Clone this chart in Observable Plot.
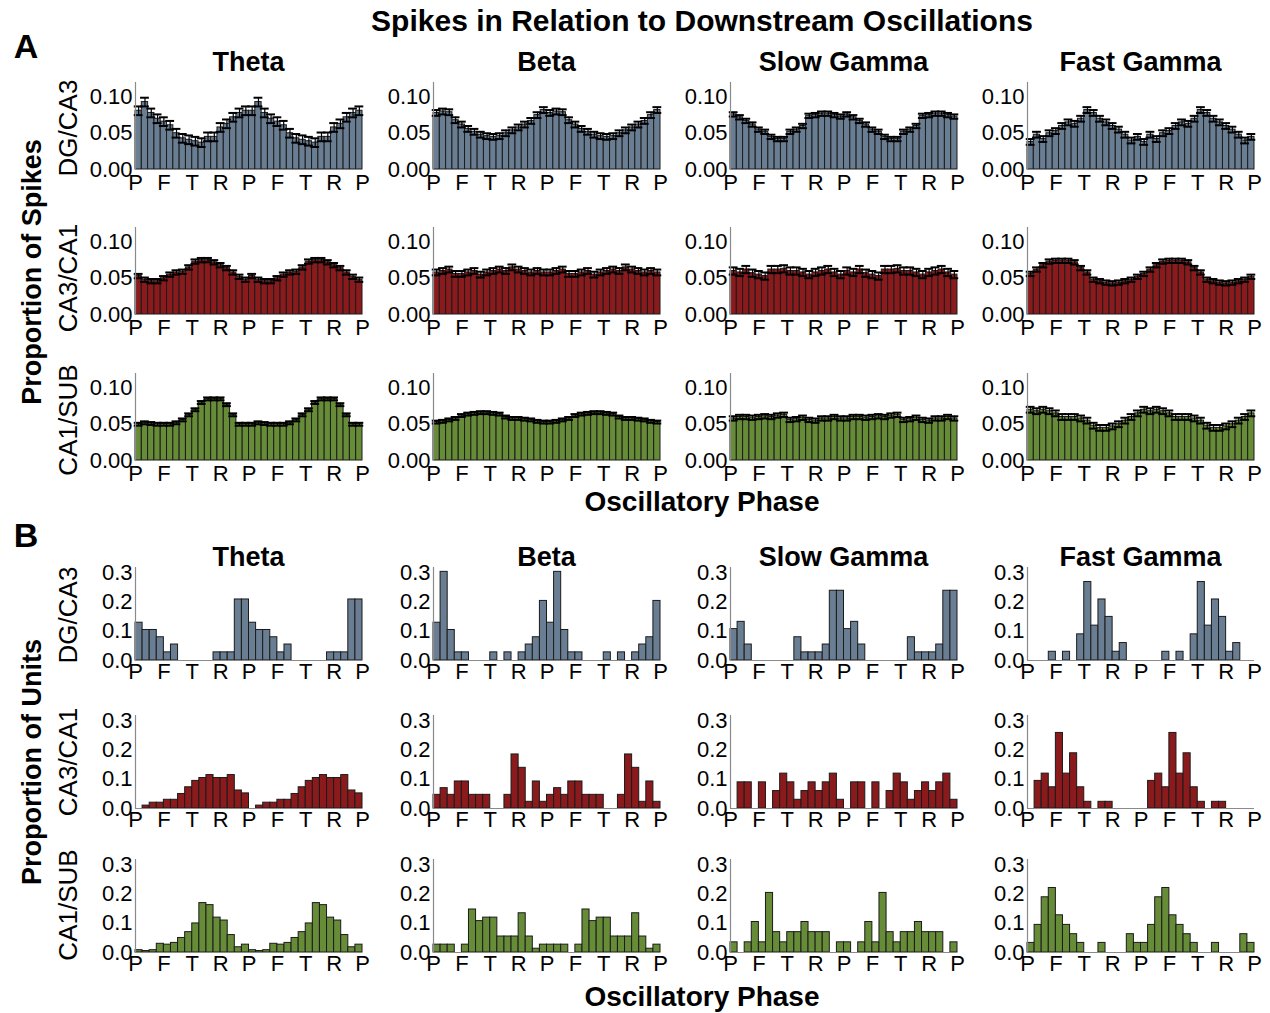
<!DOCTYPE html>
<html>
<head>
<meta charset="utf-8">
<script src="https://cdn.jsdelivr.net/npm/d3@7"></script>
<script src="https://cdn.jsdelivr.net/npm/@observablehq/plot@0.6"></script>
<style>
  html, body { margin: 0; padding: 0; background: #fff; }
  #root { position: relative; width: 1270px; height: 1013px; font-family: "Liberation Sans", Arial, sans-serif; color: #000; overflow: hidden; }
  .t { position: absolute; white-space: nowrap; transform: translate(-50%, -50%); line-height: 1; }
  .rot { transform: translate(-50%, -50%) rotate(-90deg); }
  .b { font-weight: bold; }
  .panel { position: absolute; }
</style>
</head>
<body>
<div id="root"></div>
<script>
// ---------- labels ----------
const TITLE = "Spikes in Relation to Downstream Oscillations";
const BANDS = ["Theta", "Beta", "Slow Gamma", "Fast Gamma"];
const REGIONS = ["DG/CA3", "CA3/CA1", "CA1/SUB"];
const PHASE_TICKS = ["P", "F", "T", "R", "P", "F", "T", "R", "P"];
const COLORS = ["#6a7e93", "#8b1a1d", "#678c38"];

// ---------- A: proportion of spikes (one 360° cycle, 18 bins; drawn twice, 0–720°) ----------
const A_DG_theta = [0.081,0.093,0.078,0.070,0.066,0.061,0.050,0.043,0.041,0.039,0.037,0.045,0.045,0.058,0.063,0.072,0.078,0.081];
const A_DG_beta  = [0.078,0.080,0.079,0.068,0.062,0.056,0.052,0.048,0.046,0.045,0.046,0.050,0.054,0.058,0.062,0.067,0.075,0.082];
const A_DG_sg    = [0.076,0.072,0.067,0.062,0.055,0.052,0.045,0.042,0.042,0.052,0.055,0.060,0.074,0.075,0.077,0.077,0.075,0.073];
const A_DG_fg    = [0.038,0.048,0.042,0.050,0.053,0.060,0.065,0.063,0.070,0.082,0.078,0.070,0.065,0.060,0.055,0.048,0.040,0.045];
const A_CA3_theta = [0.053,0.048,0.046,0.046,0.050,0.055,0.058,0.059,0.065,0.073,0.075,0.075,0.072,0.068,0.064,0.058,0.052,0.048];
const A_CA3_beta  = [0.058,0.060,0.062,0.056,0.056,0.058,0.060,0.055,0.058,0.060,0.062,0.060,0.065,0.062,0.060,0.058,0.060,0.058];
const A_CA3_sg    = [0.060,0.058,0.062,0.057,0.055,0.053,0.062,0.062,0.063,0.060,0.060,0.058,0.055,0.058,0.060,0.062,0.058,0.055];
const A_CA3_fg    = [0.056,0.062,0.068,0.073,0.074,0.074,0.074,0.072,0.064,0.058,0.048,0.046,0.044,0.043,0.044,0.046,0.048,0.052];
const A_CA1_theta = [0.050,0.052,0.051,0.050,0.050,0.050,0.052,0.056,0.063,0.070,0.080,0.085,0.085,0.085,0.077,0.063,0.050,0.050];
const A_CA1_beta  = [0.053,0.054,0.056,0.058,0.062,0.064,0.065,0.066,0.066,0.065,0.064,0.060,0.058,0.058,0.057,0.056,0.054,0.053];
const A_CA1_sg    = [0.058,0.060,0.060,0.059,0.060,0.061,0.060,0.062,0.063,0.056,0.057,0.059,0.056,0.055,0.058,0.058,0.060,0.058];
const A_CA1_fg    = [0.070,0.068,0.070,0.068,0.065,0.060,0.060,0.060,0.058,0.055,0.048,0.045,0.045,0.047,0.050,0.055,0.060,0.065];
// SEM (error-bar half height) per panel, rows = regions, cols = bands
const A_SEM_DG  = [0.006, 0.004, 0.003, 0.004];
const A_SEM_CA3 = [0.003, 0.004, 0.005, 0.003];
const A_SEM_CA1 = [0.002, 0.002, 0.003, 0.004];

// ---------- B: proportion of units (one cycle, 16 bins; drawn twice) ----------
const B_DG_theta = [0.13,0.105,0.105,0.08,0.028,0.055,0,0,0,0,0,0.028,0.028,0.028,0.21,0.21];
const B_DG_beta  = [0.13,0.305,0.105,0.028,0.028,0,0,0,0.028,0,0.028,0,0.028,0.055,0.08,0.205];
const B_DG_sg    = [0.108,0.133,0.055,0,0,0,0,0,0,0.08,0.028,0.028,0.028,0.055,0.24,0.24];
const B_DG_fg    = [0,0,0,0.03,0,0.03,0,0.09,0.27,0.12,0.21,0.15,0.03,0.06,0,0];
const B_CA3_theta = [0,0.01,0.02,0.02,0.03,0.03,0.05,0.073,0.095,0.105,0.115,0.105,0.105,0.115,0.062,0.052];
const B_CA3_beta  = [0.047,0.07,0.047,0.093,0.093,0.047,0.047,0.047,0,0,0.047,0.186,0.14,0.023,0.093,0.023];
const B_CA3_sg    = [0,0.09,0.09,0,0.09,0,0.06,0.12,0.09,0.03,0.06,0.09,0.06,0.09,0.12,0.03];
const B_CA3_fg    = [0,0.095,0.12,0.073,0.26,0.12,0.19,0.073,0.023,0,0.023,0.023,0,0,0,0];
const B_CA1_theta = [0.008,0.005,0.008,0.03,0.027,0.033,0.05,0.07,0.10,0.17,0.163,0.12,0.11,0.06,0.018,0.027];
const B_CA1_beta  = [0.027,0.027,0.027,0,0.027,0.148,0.108,0.12,0.12,0.055,0.055,0.055,0.135,0.055,0.013,0.027];
const B_CA1_sg    = [0.035,0,0.035,0.105,0.035,0.205,0.07,0.035,0.07,0.07,0.105,0.07,0.07,0.07,0,0.035];
const B_CA1_fg    = [0.033,0.095,0.19,0.222,0.128,0.095,0.063,0.033,0,0,0.033,0,0,0,0.063,0.033];

const A_Y_TICKS = [0, 0.05, 0.10];
const B_Y_TICKS = [0, 0.1, 0.2, 0.3];

// ---------- assemble ----------
const A_GRID = [
  [A_DG_theta, A_DG_beta, A_DG_sg, A_DG_fg],
  [A_CA3_theta, A_CA3_beta, A_CA3_sg, A_CA3_fg],
  [A_CA1_theta, A_CA1_beta, A_CA1_sg, A_CA1_fg]
];
const A_SEM = [A_SEM_DG, A_SEM_CA3, A_SEM_CA1];
const B_GRID = [
  [B_DG_theta, B_DG_beta, B_DG_sg, B_DG_fg],
  [B_CA3_theta, B_CA3_beta, B_CA3_sg, B_CA3_fg],
  [B_CA1_theta, B_CA1_beta, B_CA1_sg, B_CA1_fg]
];

const root = document.getElementById("root");
function text(str, x, y, size, cls) {
  const d = document.createElement("div");
  d.className = "t " + (cls || "");
  d.style.left = x + "px"; d.style.top = y + "px"; d.style.fontSize = size + "px";
  d.textContent = str;
  root.appendChild(d);
}

const COL_X = [135, 433, 730, 1027];
const PLOT_W = 227;
const ML = 60, MR = 10, MT = 6, MB = 30;

function panel(cycle, sem, color, yMax, yTicks, yFmt, plotH, left, base, xPad) {
  const vals = cycle.concat(cycle); // two cycles, 0–720°
  const n = vals.length;
  const data = vals.map((v, i) => ({i, v}));
  const marks = [
    Plot.rect(data, {x1: d => d.i, x2: d => d.i + 1, y1: 0, y2: "v", fill: color, stroke: "#1b1b1b", strokeWidth: 1})
  ];
  if (sem != null) {
    marks.push(
      Plot.ruleX(data, {x: d => d.i + 0.5, y1: d => d.v - sem, y2: d => d.v + sem, stroke: "#000", strokeWidth: 1.2}),
      Plot.ruleY(data, {y: d => d.v + sem, x1: d => d.i - 0.2, x2: d => d.i + 1.2, stroke: "#000", strokeWidth: 2}),
      Plot.ruleY(data, {y: d => d.v - sem, x1: d => d.i - 0.2, x2: d => d.i + 1.2, stroke: "#000", strokeWidth: 2})
    );
  }
  marks.push(
    Plot.ruleY([0], {stroke: "#8a8a8a", strokeWidth: 1.2}),
    Plot.ruleX([0], {stroke: "#8a8a8a", strokeWidth: 1.2}),
    Plot.axisY({ticks: yTicks, tickFormat: d3.format(yFmt), tickSize: 0, tickPadding: 3, label: null, fontSize: 22}),
    Plot.axisX({ticks: d3.range(9).map(k => k * n / 8), tickFormat: d => PHASE_TICKS[Math.round(d / (n / 8))], tickSize: 0, tickPadding: xPad, label: null, fontSize: 22})
  );
  const svg = Plot.plot({
    width: ML + PLOT_W + MR,
    height: MT + plotH + MB,
    marginLeft: ML, marginRight: MR, marginTop: MT, marginBottom: MB,
    x: {domain: [0, n]},
    y: {domain: [0, yMax]},
    style: {fontFamily: "Liberation Sans, Arial, sans-serif", fontSize: "22px", color: "#000", background: "transparent", overflow: "visible"},
    marks
  });
  const wrap = document.createElement("div");
  wrap.className = "panel";
  wrap.style.left = (left - ML) + "px";
  wrap.style.top = (base - plotH - MT) + "px";
  wrap.appendChild(svg);
  root.appendChild(wrap);
}

const A_BASE = [169, 314, 460];
const B_BASE = [660, 808, 952];
const A_H = 87, B_H = 93;

for (let r = 0; r < 3; r++) {
  for (let c = 0; c < 4; c++) {
    panel(A_GRID[r][c], A_SEM[r][c], COLORS[r], 0.12, A_Y_TICKS, ".2f", A_H, COL_X[c], A_BASE[r], 5);
    panel(B_GRID[r][c], null, COLORS[r], 0.32, B_Y_TICKS, ".1f", B_H, COL_X[c], B_BASE[r], 3);
  }
}

// titles and labels
text(TITLE, 702, 21, 30, "b");
text("A", 26, 46, 34, "b");
text("B", 26, 535, 34, "b");
BANDS.forEach((b, c) => {
  text(b, COL_X[c] + PLOT_W / 2, 62, 27, "b");
  text(b, COL_X[c] + PLOT_W / 2, 557, 27, "b");
});
const A_ROW_MID = [128, 278, 420];
const B_ROW_MID = [615, 762, 905];
REGIONS.forEach((g, r) => {
  text(g, 68, A_ROW_MID[r], 26, "rot");
  text(g, 68, B_ROW_MID[r], 26, "rot");
});
text("Proportion of Spikes", 32, 272, 27, "b rot");
text("Proportion of Units", 32, 762, 27, "b rot");
text("Oscillatory Phase", 702, 502, 28, "b");
text("Oscillatory Phase", 702, 997, 28, "b");
</script>
</body>
</html>
